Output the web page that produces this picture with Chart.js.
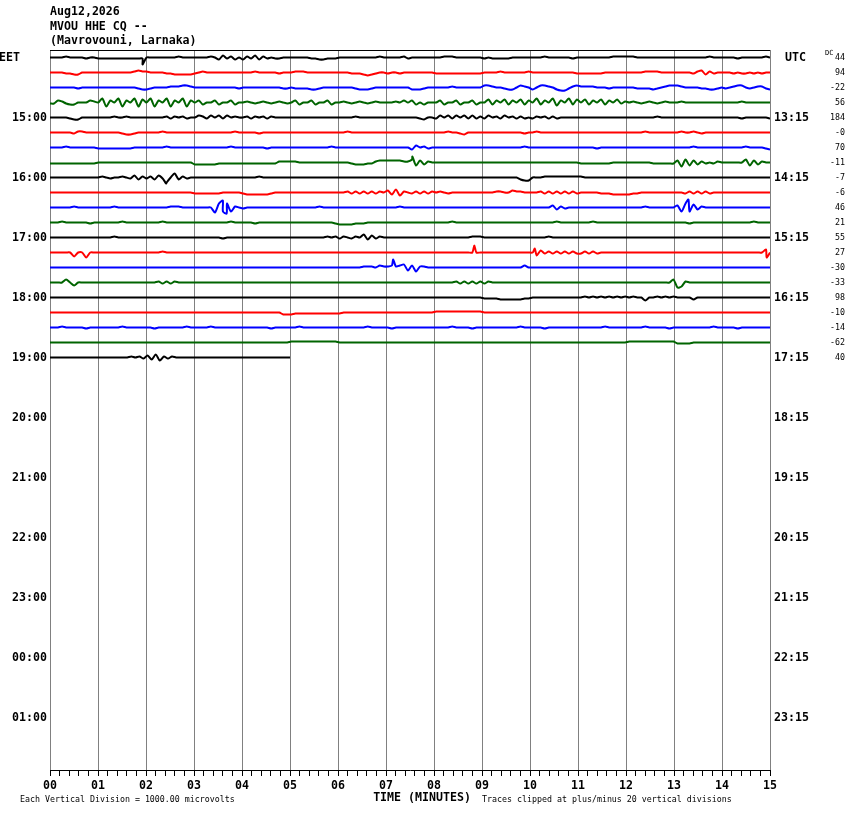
<!DOCTYPE html>
<html>
<head>
<meta charset="utf-8">
<script src="https://cdn.jsdelivr.net/npm/chart.js@4.4.1/dist/chart.umd.min.js"></script>
<style>
  html, body { margin:0; padding:0; background:#fff; }
</style>
</head>
<body>
<canvas id="chart" width="850" height="814"></canvas>
<script>
// --- data ---
const titleLines = ["Aug12,2026", "MVOU HHE CQ --", "(Mavrovouni, Larnaka)"];
const leftHours  = ["15:00","16:00","17:00","18:00","19:00","20:00","21:00","22:00","23:00","00:00","01:00"];
const rightHours = ["13:15","14:15","15:15","16:15","17:15","18:15","19:15","20:15","21:15","22:15","23:15"];
const minuteLabels = ["00","01","02","03","04","05","06","07","08","09","10","11","12","13","14","15"];
const dcValues = ["44","94","-22","56","184","-0","70","-11","-7","-6","46","21","55","27","-30","-33","98","-10","-14","-62","40"];
const traceColors = ["#000000", "#ff0000", "#0000ff", "#006400"];
const traceMinutes = [15,15,15,15,15,15,15,15,15,15,15,15,15,15,15,15,15,15,15,15,5];

// one char per 5 s sample, '5' = baseline, each step = 1 px up
const traces = [
  "555565555455 444444444444 555555556555 555565374635 364736454455 555554433444 555555555565 555564555555 556665555555 454444455555 555655555545 555555556666 665555555555 555555556555 555455555565",
  "555544335555 555555555676 655554433333 456555555555 555655555455 566655555555 555444323455 455455555555 444444444444 555565555556 555555555554 444444555555 555566665555 555546736455 554544545455",
  "555555545555 555555555543 345555666776 555555555554 555555555544 544443345555 555543334555 555555333455 555565555555 776554335765 357765322467 666655545555 554444345677 765555443345 456775456643",
  "447643355576 591759175918 591759175917 573557355735 565456545654 573557355735 565456545655 556575735355 573557355735 583758375837 593759275938 583758375846 565456545655 565555555555 555565555555",
  "555554335555 555565565555 555556465645 576475747565 564656465555 555555555555 555565555555 555555554355 475747574746 475647564645 465646455555 555555555555 555555565555 555555555555 555545555554",
  "555555466555 555555433455 555565555555 555555555565 555545555555 555555555555 556555555555 555555555555 555655435555 555555555545 565555555555 555555555555 555565555555 565565455555 555555555555",
  "555565555555 444444444555 555556555555 555555555655 555555455555 555555555565 555555555555 555555375645 555555555555 555555555565 555555555555 555545555555 555555555555 555565555555 555556555543",
  "444444444444 555555555555 555555555555 333333444444 444444444666 665555555555 555433344677 777766827365 555555555555 555555555555 555555555555 444444445555 555555444444 718273645465 555558273655",
  "555555555555 565455654736 463740593645 555555555555 555565555555 555555555555 555555555555 555555555555 555555555555 555555555322 555666666666 655555555555 555555555555 555555555555 555555555555",
  "555555555555 555555555555 555555555555 444444455555 433333345555 555555555555 556464646465 738265464646 565455555555 555665576655 556464646464 555554443333 344555555555 554646464555 555555555555",
  "555555655555 555565555555 555555666555 555550919165 455555555555 555555565555 555555555555 555655555555 555555555555 555555555555 555557364555 555555555555 555565555555 719183655555 555555555555",
  "555655555545 555555655555 555565555555 555555555655 555455555555 555555555554 333344455555 555555555555 555565555555 555555555555 555555655555 555655555555 555555555555 555455555555 555555565555",
  "555555555555 555565555555 555555555555 555555545555 555555555555 555555555656 465465837465 555555555555 555555555666 555555555555 555565555555 555555555555 555555555555 555555555555 555555555555",
  "555555155055 555555555555 555565555555 555555555555 555555555555 555555555555 555555555555 555555555555 555555555555 555555555555 527464646464 464645555555 555555555555 555555555555 555555555585",
  "555555555555 555555555555 555555555555 555555555555 555555555555 555555555555 555555666576 676782716655 555555555555 555555555575 555555555555 555555555555 555555555555 555555555555 555555555555",
  "555585255555 555555555555 555646465555 555555555555 555555555555 555555555555 555555555555 555555555555 555556464646 465555555555 555555555555 555555555555 555555555558 016555555555 555555555555",
  "555555555555 555555555555 555555555555 555555555555 555555555555 555555555555 555555555555 555555555555 555555555555 444433333344 555555555555 565656565656 565525565656 555535555555 555555555555",
  "555555555555 555555555555 555555555555 555555555555 555555555533 344444444444 455555555555 555555555555 666666666666 555555555555 555555555555 555555555555 555555555555 555555555555 555555555555",
  "555655555455 555555655555 554555555565 555565555555 555555545555 556555555555 555555565555 545555555555 555565555455 555555555655 555455555555 555555655555 555565555545 555555555655 555455555555",
  "555555555555 555555555555 555555555555 555555555555 555555555555 666666666666 555555555555 555555555555 555555555555 555555555555 555555555555 555555555555 666666666666 444455555555 555555555555",
  "555555555555 555555556564 738264655555 555555555555 555555555555"
];

// [trace, minute, px up]
const spikes = [
  [0, 1.93, -7], [7, 7.55, 6], [8, 2.42, -6],
  [10, 3.6, 7], [10, 3.68, -6], [10, 13.3, 8],
  [13, 8.84, 7], [13, 10.1, 4], [13, 14.93, -5],
  [14, 7.15, 8]
];

const PX = 15; // pixels per trace row

// --- datasets ---
const datasets = traces.map((raw, t) => {
  const s = raw.replace(/\s+/g, "");
  const n = s.length, dur = traceMinutes[t];
  const pts = [...s].map((c, i) => ({ x: i * dur / (n - 1), y: t - (c.charCodeAt(0) - 53) / PX }));
  spikes.filter(sp => sp[0] === t).forEach(sp => pts.push({ x: sp[1], y: t - sp[2] / PX }));
  pts.sort((a, b) => a.x - b.x);
  return {
    data: pts, borderColor: traceColors[t % 4], borderWidth: 2,
    pointRadius: 0, tension: 0.25, fill: false, yAxisID: "y"
  };
});

const mono = "DejaVu Sans Mono";
const isInt = v => Math.abs(v - Math.round(v)) < 1e-6;

// --- text around the plot ---
const decor = {
  id: "decor",
  beforeDatasetsDraw(chart) {
    const { ctx, chartArea } = chart;
    ctx.save();
    ctx.strokeStyle = "#000"; ctx.lineWidth = 1;
    ctx.beginPath(); ctx.moveTo(chartArea.left, chartArea.top + 0.5); ctx.lineTo(chartArea.right, chartArea.top + 0.5); ctx.stroke();
    ctx.restore();
  },
  afterDraw(chart) {
    const { ctx, chartArea, scales } = chart;
    const y0 = scales.y.getPixelForValue(0);
    ctx.save();
    ctx.fillStyle = "#000";
    ctx.textBaseline = "middle";
    ctx.font = "bold 11.6px '" + mono + "'";
    ctx.textAlign = "left";
    titleLines.forEach((t, i) => ctx.fillText(t, chartArea.left, 12 + i * 14.5));
    ctx.textAlign = "right"; ctx.fillText("EET", 20, y0);
    ctx.textAlign = "left";  ctx.fillText("UTC", 785, y0);
    ctx.textAlign = "center"; ctx.fillText("TIME (MINUTES)", 422, 798);
    ctx.font = "8.3px '" + mono + "'";
    ctx.textAlign = "right";
    dcValues.forEach((v, i) => ctx.fillText(v, 845, scales.y.getPixelForValue(i)));
    ctx.textAlign = "left";
    ctx.fillText("Each Vertical Division = 1000.00 microvolts", 20, 800);
    ctx.fillText("Traces clipped at plus/minus 20 vertical divisions", 482, 800);
    ctx.font = "7px '" + mono + "'";
    ctx.fillText("DC", 825, y0 - 4);
    ctx.restore();
  }
};

const hourTicks = s => { s.ticks = leftHours.map((_, i) => ({ value: 4 * (i + 1) })); };
const yFont = { family: mono, size: 11.6, weight: "bold" };

new Chart(document.getElementById("chart"), {
  type: "line",
  data: { datasets },
  plugins: [decor],
  options: {
    responsive: false, animation: false, devicePixelRatio: 1, events: [],
    layout: { padding: { top: 50 } },
    plugins: { legend: { display: false }, tooltip: { enabled: false } },
    scales: {
      x: {
        type: "linear", min: 0, max: 15, position: "bottom",
        afterBuildTicks: s => { s.ticks = []; for (let k = 0; k <= 75; k++) s.ticks.push({ value: k / 5 }); },
        afterFit: s => { s.height = 44; },
        ticks: {
          autoSkip: false, maxRotation: 0, minRotation: 0, padding: 3, color: "#000", font: yFont,
          callback: v => isInt(v) ? minuteLabels[Math.round(v)] : ""
        },
        grid: {
          color: c => (c.tick && isInt(c.tick.value)) ? "#808080" : "rgba(0,0,0,0)",
          tickColor: "#000", tickLength: 6, lineWidth: 1
        },
        border: { display: true, color: "#000", width: 1 }
      },
      y: {
        type: "linear", min: -0.5, max: 47.5, reverse: true, position: "left",
        afterBuildTicks: hourTicks,
        afterFit: s => { s.width = 50; },
        ticks: { padding: 3, color: "#000", font: yFont, callback: v => leftHours[v / 4 - 1] },
        grid: { display: false, drawTicks: false },
        border: { display: false }
      },
      y2: {
        type: "linear", min: -0.5, max: 47.5, reverse: true, position: "right",
        afterBuildTicks: hourTicks,
        afterFit: s => { s.width = 80; },
        ticks: { padding: 4, color: "#000", font: yFont, callback: v => rightHours[v / 4 - 1] },
        grid: { display: false, drawTicks: false },
        border: { display: false }
      }
    }
  }
});
</script>
</body>
</html>
